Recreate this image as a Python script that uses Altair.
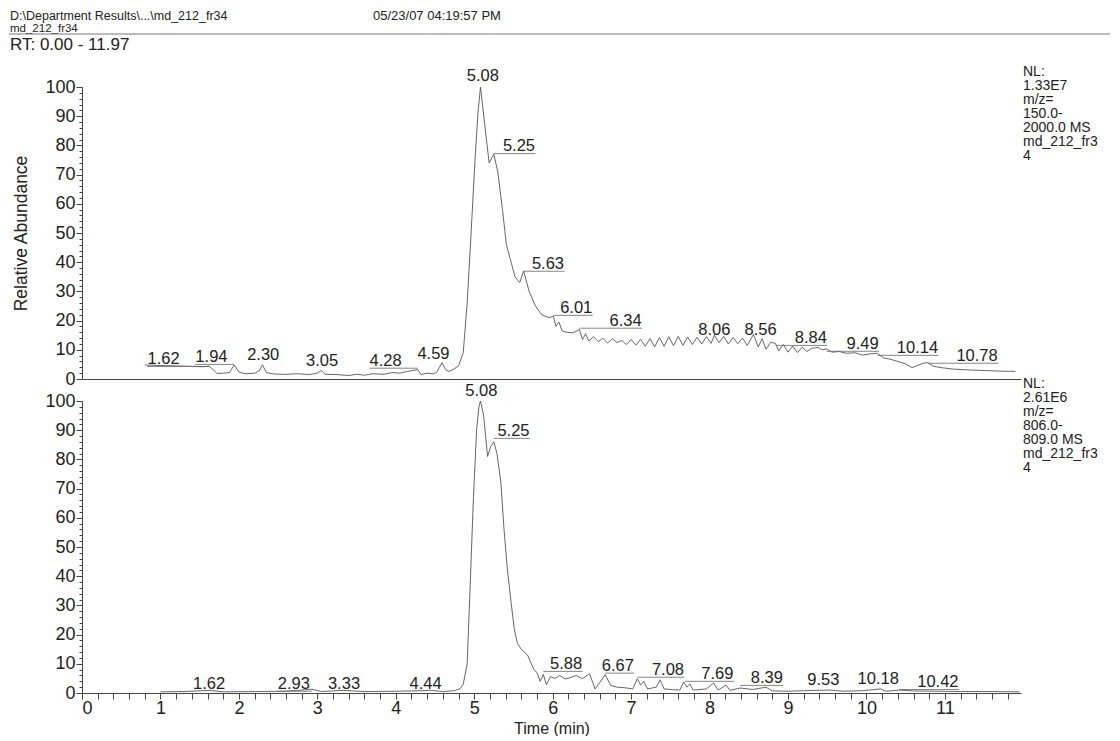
import altair as alt
import pandas as pd

# ---------------- data ----------------
top_t = [0.80, 1.00, 1.20, 1.40, 1.55, 1.62, 1.68, 1.72, 1.80, 1.88, 1.94, 2.00, 2.08, 2.20, 2.26,
         2.30, 2.35, 2.45, 2.60, 2.75, 2.90, 3.00, 3.05, 3.10, 3.25, 3.40, 3.50, 3.60, 3.70, 3.85,
         3.95, 4.05, 4.15, 4.28, 4.32, 4.40, 4.48, 4.52, 4.59, 4.64, 4.68, 4.74, 4.80, 4.86, 4.91,
         4.96, 5.01, 5.05, 5.08, 5.13, 5.19, 5.25, 5.30, 5.36, 5.41, 5.46, 5.52, 5.58, 5.63, 5.70,
         5.78, 5.86, 5.95, 6.01, 6.04, 6.08, 6.12, 6.18, 6.25, 6.30, 6.34, 6.38, 6.42, 6.46, 6.52,
         6.58, 6.64, 6.70, 6.76, 6.82, 6.88, 6.94, 7.00, 7.06, 7.12, 7.18, 7.24, 7.30, 7.36, 7.42,
         7.48, 7.54, 7.60, 7.66, 7.72, 7.78, 7.84, 7.90, 7.96, 8.02, 8.06, 8.12, 8.18, 8.24, 8.30,
         8.36, 8.42, 8.48, 8.56, 8.62, 8.67, 8.72, 8.78, 8.84, 8.88, 8.94, 9.00, 9.06, 9.12, 9.18,
         9.24, 9.30, 9.38, 9.44, 9.49, 9.56, 9.65, 9.75, 9.85, 9.95, 10.05, 10.14, 10.22, 10.30,
         10.40, 10.50, 10.58, 10.65, 10.72, 10.78, 10.85, 10.95, 11.10, 11.30, 11.50, 11.70, 11.90]
top_v = [4.8, 4.6, 4.5, 4.3, 4.2, 4.4, 3.0, 1.9, 2.0, 2.2, 4.8, 2.4, 1.8, 2.0, 2.8,
         4.9, 2.2, 1.7, 1.6, 1.8, 1.5, 2.0, 2.9, 1.6, 1.5, 1.2, 1.6, 1.3, 1.8, 1.6,
         2.2, 2.0, 2.6, 3.2, 1.5, 2.0, 1.8, 2.3, 5.6, 3.0, 2.6, 3.4, 4.5, 9.0, 26.0,
         50.0, 75.0, 92.0, 100.0, 88.0, 74.0, 77.0, 71.0, 58.0, 46.0, 41.0, 35.0, 33.0, 37.0, 30.0,
         25.0, 22.0, 21.0, 21.5, 18.0, 19.5, 16.5, 16.0, 15.8, 16.3, 17.0, 13.5, 15.5, 13.0, 14.5,
         12.8, 14.0, 12.3, 13.8, 12.5, 13.2, 11.8, 13.5, 11.6, 13.6, 11.2, 13.8, 11.0, 14.2, 11.2,
         14.5, 11.4, 14.6, 11.5, 14.4, 11.8, 14.3, 12.0, 14.5, 12.2, 15.0, 12.4, 14.6, 12.0, 14.2,
         12.1, 14.0, 11.5, 15.3, 11.0, 13.8, 10.2, 12.6, 12.2, 9.6, 11.8, 9.2, 11.3, 9.0, 10.9,
         9.4, 10.5, 10.8, 10.0, 10.3, 9.2, 9.4, 8.8, 9.0, 8.2, 8.6, 8.8, 7.2, 6.8,
         6.0, 5.2, 3.9, 4.6, 5.4, 5.6, 4.4, 3.9, 3.4, 3.1, 2.9, 2.7, 2.6]

bot_t = [1.00, 1.30, 1.62, 1.80, 2.20, 2.60, 2.80, 2.93, 3.05, 3.33, 3.60, 4.00, 4.20, 4.44, 4.60,
         4.75, 4.82, 4.86, 4.91, 4.95, 4.99, 5.03, 5.06, 5.08, 5.12, 5.17, 5.21, 5.25, 5.29, 5.34,
         5.38, 5.42, 5.47, 5.51, 5.55, 5.60, 5.68, 5.76, 5.80, 5.84, 5.88, 5.92, 5.97, 6.03, 6.09,
         6.16, 6.22, 6.30, 6.38, 6.47, 6.54, 6.60, 6.67, 6.74, 6.82, 6.92, 7.02, 7.08, 7.12, 7.16,
         7.21, 7.32, 7.37, 7.42, 7.55, 7.62, 7.67, 7.71, 7.75, 7.79, 7.96, 8.05, 8.11, 8.21, 8.26,
         8.39, 8.55, 8.72, 8.80, 9.00, 9.20, 9.53, 9.70, 9.95, 10.18, 10.25, 10.42, 10.60, 10.90,
         11.20, 11.60, 11.95]
bot_v = [0.4, 0.5, 0.9, 0.4, 0.5, 0.6, 1.0, 1.3, 0.5, 0.9, 0.5, 0.6, 0.7, 0.9, 0.5,
         0.8, 1.5, 3.0, 10.0, 38.0, 67.0, 90.0, 98.0, 100.0, 95.0, 81.0, 84.5, 86.0, 82.0, 72.0,
         56.0, 43.0, 31.0, 22.0, 17.0, 15.0, 13.0, 8.0, 7.0, 4.0, 6.4, 2.8, 5.6, 5.0, 6.0,
         4.8, 5.2, 6.0, 4.9, 6.6, 1.4, 3.6, 6.3, 2.6, 2.0, 1.8, 1.4, 4.9, 2.7, 4.0,
         1.4, 2.0, 4.5, 1.4, 1.1, 1.0, 3.8, 2.0, 3.1, 1.0, 1.4, 3.4, 1.0, 2.7, 0.9,
         1.7, 1.2, 2.0, 0.7, 0.6, 0.8, 1.0, 0.6, 0.8, 1.4, 0.6, 1.0, 0.7, 0.6,
         0.5, 0.5, 0.4]

top_labels = ["1.62", "1.94", "2.30", "3.05", "4.28", "4.59", "5.08", "5.25", "5.63", "6.01",
              "6.34", "8.06", "8.56", "8.84", "9.49", "10.14", "10.78"]
top_label_t = [1.04, 1.65, 2.31, 3.06, 3.87, 4.48, 5.11, 5.57, 5.94, 6.30,
               6.93, 8.06, 8.65, 9.29, 9.95, 10.65, 11.41]
top_label_v = [5.1, 5.8, 6.5, 4.5, 4.5, 6.8, 102.0, 78.0, 37.7, 22.6,
               18.2, 15.0, 15.0, 12.3, 10.3, 8.9, 6.2]

bot_labels = ["1.62", "2.93", "3.33", "4.44", "5.08", "5.25", "5.88", "6.67", "7.08", "7.69",
              "8.39", "9.53", "10.18", "10.42"]
bot_label_t = [1.62, 2.70, 3.34, 4.38, 5.09, 5.50, 6.17, 6.83, 7.47, 8.10,
               8.73, 9.45, 10.15, 10.91]
bot_label_v = [1.4, 1.4, 1.4, 1.4, 101.7, 88.0, 8.2, 7.6, 6.2, 4.8,
               3.4, 2.7, 3.1, 2.0]

top_note = ["NL:", "1.33E7", "m/z=", "150.0-", "2000.0  MS", "md_212_fr3", "4"]
bot_note = ["NL:", "2.61E6", "m/z=", "806.0-", "809.0  MS", "md_212_fr3", "4"]

header_path = "D:\\Department Results\\...\\md_212_fr34"
header_file = "md_212_fr34"
header_date = "05/23/07 04:19:57 PM"
header_rt = "RT: 0.00 - 11.97"

y_major = list(range(0, 101, 10))
y_minor = list(range(0, 101, 2))
x_ticks = [round(i * 0.2, 1) for i in range(60)]

# ---------------- styling ----------------
FONT = "Liberation Sans"
INK = "#222222"
AXC = "#444444"
W, H = 939, 292

xscale = alt.Scale(domain=[0, 11.97], nice=False, zero=False)
yscale = alt.Scale(domain=[0, 100], nice=False)


def leader_rows(labels, lt, lv):
    rows = []
    for s, c, v in zip(labels, lt, lv):
        p = float(s)
        half = 0.21 if len(s) <= 4 else 0.27
        if abs(c - p) < 0.12:
            continue
        if c > p:
            rows.append({"x": p, "x2": c + half, "y": v - 0.8})
        else:
            rows.append({"x": c - half, "x2": p, "y": v - 0.8})
    return pd.DataFrame(rows)


def panel(tt, tv, labels, lt, lv, note, note_y, bottom, extra=None):
    trace = pd.DataFrame({"t": tt, "v": tv})
    labs = pd.DataFrame({"t": lt, "v": lv, "s": labels})

    if bottom:
        xaxis = alt.Axis(orient="bottom", values=x_ticks, tickSize=6, tickColor=AXC,
                         domainColor=AXC, grid=False, labelFont=FONT, labelFontSize=18,
                         labelColor=INK, labelPadding=0, labelOverlap=False,
                         labelExpr="datum.value % 1 === 0 ? format(datum.value, 'd') : ''",
                         title="Time (min)", titleFont=FONT, titleFontSize=16,
                         titleFontWeight="normal", titleColor=INK, titlePadding=3)
        ytitle = None
    else:
        xaxis = alt.Axis(orient="bottom", labels=False, ticks=False, domainColor=AXC,
                         grid=False, title=None)
        ytitle = "Relative Abundance"

    yaxis = alt.Axis(orient="left", values=y_major, tickSize=6, tickColor=AXC,
                     domainColor=AXC, grid=False, labelFont=FONT, labelFontSize=18,
                     labelColor=INK, labelPadding=1, title=ytitle, titleFont=FONT,
                     titleFontSize=17.5, titleFontWeight="normal", titleColor=INK,
                     titlePadding=14)
    yminor = alt.Axis(orient="left", values=y_minor, tickSize=3, tickColor=AXC,
                      domain=False, labels=False, grid=False, title=None)

    line = alt.Chart(trace).mark_line(color="#555555", strokeWidth=0.9).encode(
        x=alt.X("t:Q", scale=xscale, axis=xaxis),
        y=alt.Y("v:Q", scale=yscale, axis=yaxis),
    )
    text = alt.Chart(labs).mark_text(font=FONT, fontSize=16.5, color=INK, align="center",
                                     baseline="alphabetic").encode(
        x=alt.X("t:Q", scale=xscale, axis=None),
        y=alt.Y("v:Q", scale=yscale, axis=yminor),
        text="s:N",
    )
    lead = alt.Chart(leader_rows(labels, lt, lv)).mark_rule(
        color="#666666", strokeWidth=0.8).encode(
        x=alt.X("x:Q", scale=xscale, axis=None),
        x2="x2:Q",
        y=alt.Y("y:Q", scale=yscale, axis=None),
    )
    notes = alt.Chart(pd.DataFrame({"a": [0]})).mark_text(
        text=note, font=FONT, fontSize=14, color=INK, align="left", baseline="top",
        lineHeight=14).encode(x=alt.value(W + 2), y=alt.value(note_y))

    layers = [line, lead, text, notes]
    if extra:
        layers += extra
    return alt.layer(*layers).resolve_axis(x="independent", y="independent").properties(
        width=W, height=H)


one = pd.DataFrame({"a": [0]})
hdr = [
    alt.Chart(one).mark_text(text=header_path, font=FONT, fontSize=12.5, color=INK,
                             align="left", baseline="top").encode(
        x=alt.value(-72), y=alt.value(-77)),
    alt.Chart(one).mark_text(text=header_file, font=FONT, fontSize=11.5, color=INK,
                             align="left", baseline="top").encode(
        x=alt.value(-72), y=alt.value(-64.5)),
    alt.Chart(one).mark_text(text=header_date, font=FONT, fontSize=13, color=INK,
                             align="left", baseline="top").encode(
        x=alt.value(291), y=alt.value(-77)),
    alt.Chart(one).mark_rule(color="#777777", strokeWidth=1).encode(
        x=alt.value(-73), x2=alt.value(1028), y=alt.value(-53)),
    alt.Chart(one).mark_text(text=header_rt, font=FONT, fontSize=17, color=INK,
                             align="left", baseline="top").encode(
        x=alt.value(-72), y=alt.value(-50)),
]

top = panel(top_t, top_v, top_labels, top_label_t, top_label_v, top_note, -22, False, hdr)
bot = panel(bot_t, bot_v, bot_labels, bot_label_t, bot_label_v, bot_note, -24, True)

chart = alt.vconcat(top, bot, spacing=22, bounds="flush").properties(
    padding={"left": 0, "right": 0, "top": 2, "bottom": 0}, background="white"
).configure_view(stroke=None)

chart.save("out.html", embed_options={"renderer": "svg", "actions": False})
